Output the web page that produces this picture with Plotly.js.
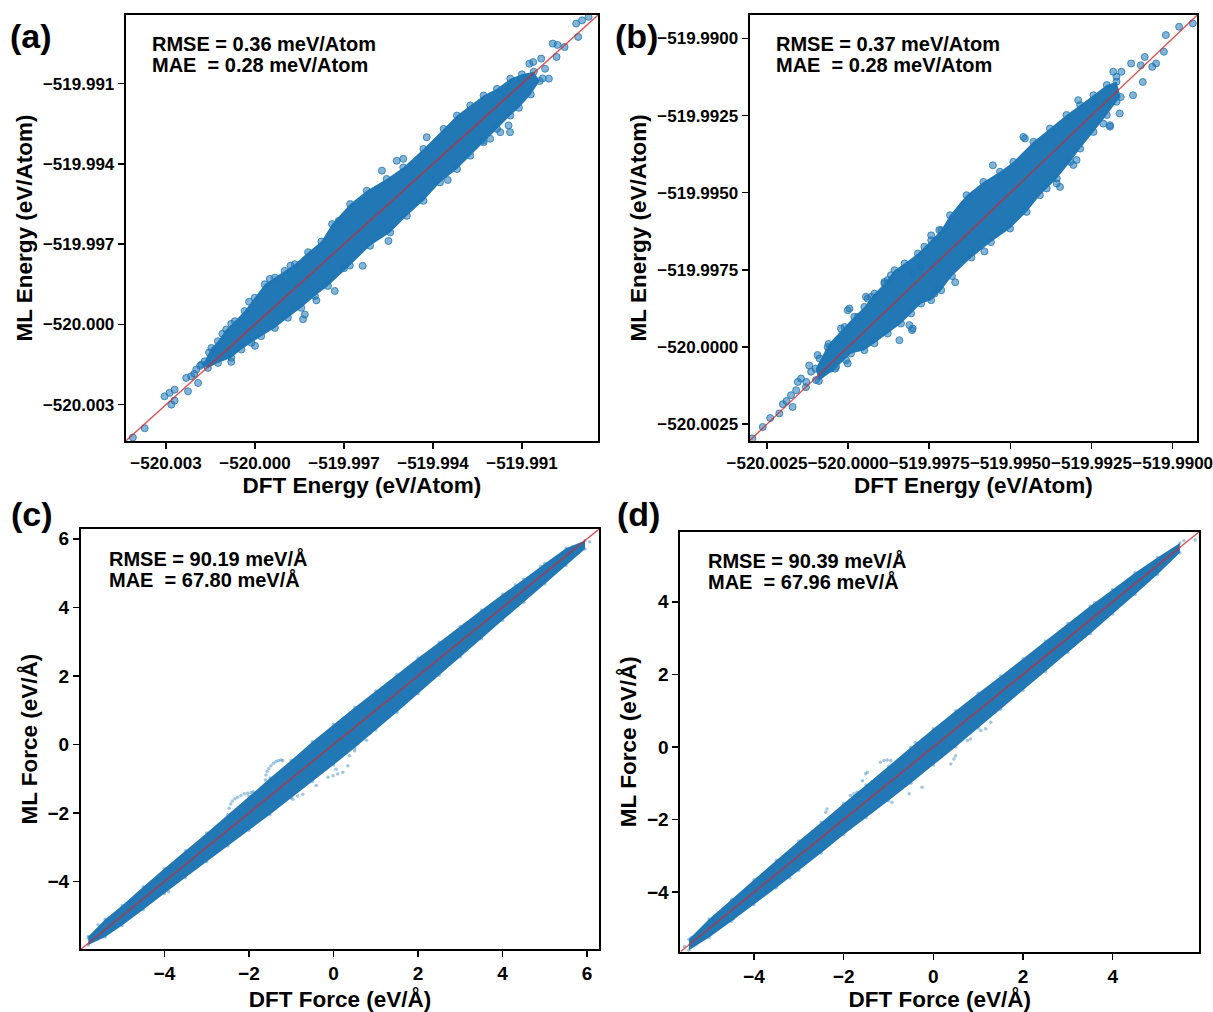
<!DOCTYPE html>
<html>
<head>
<meta charset="utf-8">
<script src="https://cdn.plot.ly/plotly-3.0.1.min.js"></script>
<style>html,body{margin:0;padding:0;background:#fff;}#plot{width:1213px;height:1012px;}</style>
</head>
<body>
<div id="plot"></div>
<script>
// ---------------- DATA ----------------
// Panel (a): energy (eV/Atom)
const diagA = [-520.00436, -519.98843];
const ticksA = [-520.003, -520.000, -519.997, -519.994, -519.991];
const bandA_upperX = [-520.00180, -520.00170, -520.00147, -520.00125, -520.00097, -520.00068, -520.00035, -520.00001, -519.99967, -519.99933, -519.99900, -519.99866, -519.99821, -519.99776, -519.99740, -519.99679, -519.99623, -519.99556, -519.99500, -519.99432, -519.99364, -519.99319, -519.99274, -519.99229, -519.99184, -519.99139, -519.99100, -519.99060];
const bandA_upperY = [-520.00150, -520.00138, -520.00088, -520.00063, -520.00019, -519.99988, -519.99950, -519.99900, -519.99850, -519.99825, -519.99800, -519.99775, -519.99730, -519.99690, -519.99625, -519.99550, -519.99500, -519.99456, -519.99413, -519.99344, -519.99269, -519.99219, -519.99181, -519.99144, -519.99119, -519.99081, -519.99065, -519.99055];
const bandA_lowerX = [-519.99040, -519.99070, -519.99110, -519.99139, -519.99184, -519.99229, -519.99274, -519.99319, -519.99376, -519.99432, -519.99488, -519.99544, -519.99612, -519.99680, -519.99754, -519.99798, -519.99844, -519.99889, -519.99933, -519.99979, -520.00012, -520.00046, -520.00080, -520.00125, -520.00159];
const bandA_lowerY = [-519.99090, -519.99140, -519.99190, -519.99219, -519.99269, -519.99319, -519.99369, -519.99419, -519.99469, -519.99538, -519.99594, -519.99656, -519.99706, -519.99780, -519.99856, -519.99894, -519.99938, -519.99975, -520.00013, -520.00044, -520.00069, -520.00094, -520.00125, -520.00144, -520.00163];
const ptsA_dft = [-520.00412, -520.00372, -520.00305, -520.00288, -520.00271, -520.00282, -520.00271, -520.00226, -520.00232, -520.00215, -520.00198, -520.00192, -520.00205, -520.00185, -520.00155, -520.00110, -520.00080, -520.00020, -519.99950, -519.99880, -519.99838, -519.99832, -519.99793, -519.99731, -519.99637, -519.99550, -519.99718, -519.99572, -519.99522, -519.99500, -519.99421, -519.99207, -519.99173, -519.99145, -519.99140, -519.99232, -519.99154, -519.99075, -519.99062, -519.99035, -519.99022, -519.99009, -519.98996, -519.98983, -519.98956, -519.98910, -519.98917, -519.98897, -519.98875, -519.98980, -519.99030, -519.99350, -519.99700, -520.00000, -520.00080];
const ptsA_ml = [-520.00423, -520.00388, -520.00269, -520.00256, -520.00244, -520.00300, -520.00285, -520.00250, -520.00200, -520.00194, -520.00169, -520.00219, -520.00185, -520.00155, -520.00105, -520.00035, -519.99998, -519.99915, -519.99830, -519.99780, -519.99981, -519.99963, -519.99910, -519.99875, -519.99781, -519.99688, -519.99613, -519.99425, -519.99388, -519.99381, -519.99300, -519.99306, -519.99281, -519.99256, -519.99281, -519.99313, -519.99150, -519.99025, -519.99019, -519.99006, -519.99044, -519.99081, -519.98950, -519.99000, -519.98963, -519.98925, -519.98875, -519.98863, -519.98850, -519.98955, -519.99080, -519.99460, -519.99790, -520.00080, -520.00140];

// Panel (b): energy (eV/Atom)
const diagB = [-520.003035, -519.98924];
const ticksB = [-520.0025, -520.0000, -519.9975, -519.9950, -519.9925, -519.9900];
const bandB_upperX = [-520.00100, -520.00060, -520.00011, -519.99981, -519.99950, -519.99919, -519.99888, -519.99857, -519.99826, -519.99785, -519.99744, -519.99713, -519.99686, -519.99635, -519.99583, -519.99532, -519.99491, -519.99429, -519.99378, -519.99327, -519.99285, -519.99244, -519.99203, -519.99173];
const bandB_upperY = [-520.00070, -519.99990, -519.99935, -519.99902, -519.99870, -519.99827, -519.99794, -519.99751, -519.99729, -519.99697, -519.99654, -519.99621, -519.99573, -519.99508, -519.99465, -519.99432, -519.99400, -519.99335, -519.99292, -519.99248, -519.99216, -519.99184, -519.99151, -519.99140];
const bandB_lowerX = [-519.99160, -519.99173, -519.99203, -519.99244, -519.99285, -519.99316, -519.99357, -519.99409, -519.99450, -519.99501, -519.99560, -519.99620, -519.99680, -519.99713, -519.99744, -519.99775, -519.99806, -519.99837, -519.99878, -519.99919, -519.99950, -519.99991, -520.00040, -520.00090];
const bandB_lowerY = [-519.99190, -519.99205, -519.99248, -519.99303, -519.99357, -519.99400, -519.99454, -519.99508, -519.99562, -519.99616, -519.99660, -519.99710, -519.99770, -519.99816, -519.99848, -519.99859, -519.99891, -519.99924, -519.99956, -519.99988, -520.00010, -520.00021, -520.00070, -520.00110];
const ptsB_dft = [-520.00295, -520.00263, -520.00212, -520.00201, -520.00171, -520.00176, -520.00155, -520.00145, -520.00129, -520.00114, -520.00099, -520.00094, -520.00088, -520.00073, -520.00063, -520.00053, -520.00037, -520.00032, -520.00022, -520.00001, -519.99996, -520.00006, -520.00001, -519.99970, -519.99945, -519.99940, -519.99929, -519.99888, -519.99878, -519.99868, -519.99842, -519.99811, -519.99801, -519.99801, -519.99776, -519.99765, -519.99744, -519.99734, -519.99724, -519.99719, -520.00240, -520.00190, -520.00160, -520.00130, -520.00120, -519.99645, -519.99554, -519.99455, -519.99460, -519.99306, -519.99296, -519.99357, -519.99347, -519.99388, -519.99193, -519.99214, -519.99203, -519.99183, -519.99173, -519.99291, -519.99244, -519.99158, -519.99128, -519.99098, -519.99086, -519.99063, -519.99051, -519.99027, -519.99021, -519.98980, -519.98938, -519.99092, -519.99122, -519.99163, -519.99193, -519.99803, -519.99670, -519.99580];
const ptsB_ml = [-520.00296, -520.00259, -520.00215, -520.00185, -520.00194, -520.00156, -520.00113, -520.00102, -520.00113, -520.00080, -520.00107, -520.00026, -520.00037, -520.00080, -520.00000, -520.00070, -520.00064, -519.99978, -519.99940, -519.99881, -519.99875, -520.00043, -520.00053, -519.99902, -519.99837, -519.99843, -519.99837, -519.99789, -519.99783, -519.99767, -519.99978, -519.99929, -519.99940, -519.99762, -519.99740, -519.99675, -519.99638, -519.99827, -519.99810, -519.99621, -520.00230, -520.00175, -520.00140, -520.00130, -520.00060, -519.99540, -519.99411, -519.99324, -519.99319, -519.99410, -519.99394, -519.99470, -519.99481, -519.99486, -519.99281, -519.99276, -519.99205, -519.99108, -519.99124, -519.99200, -519.99205, -519.99108, -519.99081, -519.99087, -519.99060, -519.99092, -519.99081, -519.99043, -519.98989, -519.98962, -519.98951, -519.99141, -519.99184, -519.99243, -519.99286, -519.99945, -519.99790, -519.99690];

// Panel (c): force (eV/Å)
const diagC = [-5.975, 6.285];
const ticksC = [-4, -2, 0, 2, 4, 6];
const bandC_upperX = [-5.80, -5.40, -5.00, -4.50, -4.00, -3.50, -3.00, -2.50, -2.00, -1.50, -1.00, -0.50, 0.00, 0.50, 1.00, 1.50, 2.00, 2.50, 3.00, 3.50, 4.00, 4.50, 5.00, 5.50, 5.95];
const bandC_upperY = [-5.60, -5.10, -4.70, -4.15, -3.62, -3.10, -2.58, -2.05, -1.52, -0.98, -0.46, 0.08, 0.58, 1.08, 1.56, 2.04, 2.52, 2.98, 3.45, 3.92, 4.38, 4.82, 5.28, 5.72, 5.95];
const bandC_lowerX = [5.95, 5.50, 5.00, 4.50, 4.00, 3.50, 3.00, 2.50, 2.00, 1.50, 1.00, 0.50, 0.00, -0.50, -1.00, -1.50, -2.00, -2.50, -3.00, -3.50, -4.00, -4.50, -5.00, -5.40, -5.80];
const bandC_lowerY = [5.70, 5.22, 4.68, 4.15, 3.62, 3.08, 2.55, 2.02, 1.48, 0.94, 0.42, -0.10, -0.60, -1.08, -1.56, -2.04, -2.50, -2.96, -3.42, -3.88, -4.35, -4.82, -5.28, -5.62, -5.85];
const ptsC_dft = [-1.61, -1.60, -1.57, -1.53, -1.48, -1.42, -1.36, -1.30, -1.24, -1.20,
                  -2.47, -2.43, -2.39, -2.33, -2.27, -2.19, -2.11, -2.03, -1.95, -1.90,
                  -0.96, -0.85, -0.73, -0.41, -0.13, -0.01, 0.10, 0.22, 0.34, 0.06, 0.38, 0.50, 0.58, 0.78, 0.86,
                  5.46, 5.65, 6.06, 5.80, -5.57, -5.80, -5.45, -5.62,
                  4.90, 4.30, 3.10, -3.90, -4.60, 1.40, 2.60];
const ptsC_ml = [-1.04, -0.89, -0.79, -0.70, -0.62, -0.55, -0.50, -0.47, -0.45, -0.47,
                 -1.86, -1.74, -1.65, -1.58, -1.54, -1.49, -1.44, -1.42, -1.40, -1.38,
                 -1.60, -1.50, -1.45, -1.20, -0.96, -0.91, -0.86, -0.81, -0.62, -0.72, -0.33, -0.18, 0.02, 0.12, 0.31,
                 5.62, 5.77, 5.91, 5.60, -5.26, -5.65, -5.55, -5.45,
                 5.20, 4.65, 3.50, -4.30, -4.35, 1.00, 2.20];

// Panel (d): force (eV/Å)
const diagD = [-5.64, 5.93];
const ticksD = [-4, -2, 0, 2, 4];
const bandD_upperX = [-5.45, -5.00, -4.50, -4.00, -3.50, -3.00, -2.50, -2.00, -1.50, -1.00, -0.50, 0.00, 0.50, 1.00, 1.50, 2.00, 2.50, 3.00, 3.50, 4.00, 4.50, 5.00, 5.50];
const bandD_upperY = [-5.30, -4.74, -4.20, -3.66, -3.12, -2.59, -2.08, -1.56, -1.05, -0.53, -0.01, 0.50, 1.00, 1.48, 1.95, 2.43, 2.92, 3.40, 3.88, 4.34, 4.80, 5.22, 5.62];
const bandD_lowerX = [5.50, 5.00, 4.50, 4.00, 3.50, 3.00, 2.50, 2.00, 1.50, 1.00, 0.50, 0.00, -0.50, -1.00, -1.50, -2.00, -2.50, -3.00, -3.50, -4.00, -4.50, -5.00, -5.45];
const bandD_lowerY = [5.35, 4.75, 4.20, 3.66, 3.12, 2.60, 2.08, 1.56, 1.04, 0.52, 0.00, -0.50, -1.00, -1.48, -1.95, -2.42, -2.92, -3.40, -3.88, -4.34, -4.80, -5.25, -5.60];
const ptsD_dft = [-2.40, -2.37, -1.85, -1.77, -1.70, -1.58, -1.51, -1.47, -1.18, -1.10, -1.03, -0.95, -0.92, -0.54, -0.25, 0.39, 0.46, 0.50, 0.76, 0.83, 1.06, 1.17, 1.28,
                  4.94, 5.16, 5.37, 5.59, 5.84, -5.40, -5.14, -4.89, -4.46, -5.55, -5.30, 3.60, 2.20, -3.20, -0.40];
const ptsD_ml = [-1.80, -1.71, -1.34, -1.29, -1.25, -0.93, -0.74, -0.70, -0.42, -0.37, -0.36, -0.37, -1.52, -1.29, -1.11, -0.47, -0.33, -0.24, 0.18, 0.22, 0.45, 0.50, 0.68,
                 5.08, 5.27, 5.27, 5.68, 5.70, -5.24, -5.19, -4.78, -4.73, -5.50, -5.45, 3.98, 2.55, -3.60, 0.12];

const panelLabels = ['(a)', '(b)', '(c)', '(d)'];
const rmseText = ['RMSE = 0.36 meV/Atom', 'RMSE = 0.37 meV/Atom', 'RMSE = 90.19 meV/Å', 'RMSE = 90.39 meV/Å'];
const maeText = ['MAE\u00a0 = 0.28 meV/Atom', 'MAE\u00a0 = 0.28 meV/Atom', 'MAE\u00a0 = 67.80 meV/Å', 'MAE\u00a0 = 67.96 meV/Å'];
const xTitles = ['DFT Energy (eV/Atom)', 'DFT Energy (eV/Atom)', 'DFT Force (eV/Å)', 'DFT Force (eV/Å)'];
const yTitles = ['ML Energy (eV/Atom)', 'ML Energy (eV/Atom)', 'ML Force (eV/Å)', 'ML Force (eV/Å)'];

// ---------------- STYLE ----------------
const FONT = 'Liberation Sans, Arial, Helvetica, sans-serif';
const BLUE_FILL = 'rgb(34,119,181)';
const energyMarker = {size: 7, color: 'rgba(31,119,180,0.55)', line: {color: 'rgba(31,119,180,0.8)', width: 1}};
const forceMarker = {size: 3.5, color: 'rgba(31,119,180,0.42)', line: {width: 0}};
const RED = 'rgba(214,39,40,0.8)';

function bandTrace(ux, uy, lx, ly, xa, ya, marker) {
  return {x: ux.concat(lx), y: uy.concat(ly), xaxis: xa, yaxis: ya, type: 'scatter', mode: 'markers',
          fill: 'toself', fillcolor: BLUE_FILL, marker: marker, hoverinfo: 'skip', showlegend: false};
}
function ptsTrace(x, y, xa, ya, marker) {
  return {x: x, y: y, xaxis: xa, yaxis: ya, type: 'scatter', mode: 'markers', marker: marker, hoverinfo: 'skip', showlegend: false};
}
function diagTrace(d, xa, ya) {
  return {x: d, y: d, xaxis: xa, yaxis: ya, type: 'scatter', mode: 'lines', line: {color: RED, width: 1.4}, hoverinfo: 'skip', showlegend: false};
}

const data = [
  bandTrace(bandA_upperX, bandA_upperY, bandA_lowerX, bandA_lowerY, 'x', 'y', energyMarker),
  ptsTrace(ptsA_dft, ptsA_ml, 'x', 'y', energyMarker),
  diagTrace(diagA, 'x', 'y'),
  bandTrace(bandB_upperX, bandB_upperY, bandB_lowerX, bandB_lowerY, 'x2', 'y2', energyMarker),
  ptsTrace(ptsB_dft, ptsB_ml, 'x2', 'y2', energyMarker),
  diagTrace(diagB, 'x2', 'y2'),
  bandTrace(bandC_upperX, bandC_upperY, bandC_lowerX, bandC_lowerY, 'x3', 'y3', forceMarker),
  ptsTrace(ptsC_dft, ptsC_ml, 'x3', 'y3', forceMarker),
  diagTrace(diagC, 'x3', 'y3'),
  bandTrace(bandD_upperX, bandD_upperY, bandD_lowerX, bandD_lowerY, 'x4', 'y4', forceMarker),
  ptsTrace(ptsD_dft, ptsD_ml, 'x4', 'y4', forceMarker),
  diagTrace(diagD, 'x4', 'y4')
];

function axis(extra, tickSize, titleText, standoff) {
  return Object.assign({
    showgrid: false, zeroline: false, showline: true, mirror: true,
    linecolor: '#000', linewidth: 2, ticks: 'outside', ticklen: 6, tickwidth: 1.5, tickcolor: '#000',
    tickangle: 0, automargin: false, ticklabeloverflow: 'allow',
    tickfont: {family: FONT, size: tickSize, color: '#000', weight: 'bold'},
    title: {text: titleText, font: {family: FONT, size: 22.5, color: '#000', weight: 'bold'}, standoff: standoff}
  }, extra);
}

const layout = {
  width: 1213, height: 1012,
  margin: {l: 0, r: 0, t: 0, b: 0},
  paper_bgcolor: '#fff', plot_bgcolor: '#fff',
  showlegend: false,
  font: {family: FONT, color: '#000'},
  xaxis: axis({domain: [0.10363, 0.49308], range: diagA, tickvals: ticksA, tickformat: '.3f', anchor: 'y'}, 17, xTitles[0], 5),
  yaxis: axis({domain: [0.56423, 0.98518], range: diagA, tickvals: ticksA, tickformat: '.3f', anchor: 'x'}, 17, yTitles[0], 4),
  xaxis2: axis({domain: [0.61797, 0.98706], range: diagB, tickvals: ticksB, tickformat: '.4f', anchor: 'y2'}, 17, xTitles[1], 5),
  yaxis2: axis({domain: [0.56453, 0.98518], range: diagB, tickvals: ticksB, tickformat: '.4f', anchor: 'x2'}, 17, yTitles[1], 4),
  xaxis3: axis({domain: [0.06669, 0.49398], range: diagC, tickvals: ticksC, anchor: 'y3'}, 19, xTitles[2], 10),
  yaxis3: axis({domain: [0.06196, 0.47727], range: diagC, tickvals: ticksC, anchor: 'x3'}, 19, yTitles[2], 4),
  xaxis4: axis({domain: [0.56093, 0.98862], range: diagD, tickvals: ticksD, anchor: 'y4'}, 19, xTitles[3], 10),
  yaxis4: axis({domain: [0.05958, 0.47461], range: diagD, tickvals: ticksD, anchor: 'x4'}, 19, yTitles[3], 4),
  annotations: []
};

const labelPos = [[0.02556, 0.96443], [0.52432, 0.96443], [0.02638, 0.49209], [0.52597, 0.49209]];
const statPos = [[0.12366, 0.95682, 0.93547], [0.63768, 0.95603, 0.93528], [0.08862, 0.44832, 0.42688], [0.58203, 0.44634, 0.42520]];
for (let i = 0; i < 4; i++) {
  layout.annotations.push({text: panelLabels[i], xref: 'paper', yref: 'paper', x: labelPos[i][0], y: labelPos[i][1],
    xanchor: 'center', yanchor: 'middle', showarrow: false, font: {family: FONT, size: 34, color: '#000', weight: 'bold'}});
  layout.annotations.push({text: rmseText[i], xref: 'paper', yref: 'paper', x: statPos[i][0], y: statPos[i][1],
    xanchor: 'left', yanchor: 'middle', showarrow: false, font: {family: FONT, size: 20, color: '#000', weight: 'bold'}});
  layout.annotations.push({text: maeText[i], xref: 'paper', yref: 'paper', x: statPos[i][0], y: statPos[i][2],
    xanchor: 'left', yanchor: 'middle', showarrow: false, font: {family: FONT, size: 20, color: '#000', weight: 'bold'}});
}

Plotly.newPlot('plot', data, layout, {staticPlot: true, displayModeBar: false});
</script>
</body>
</html>
